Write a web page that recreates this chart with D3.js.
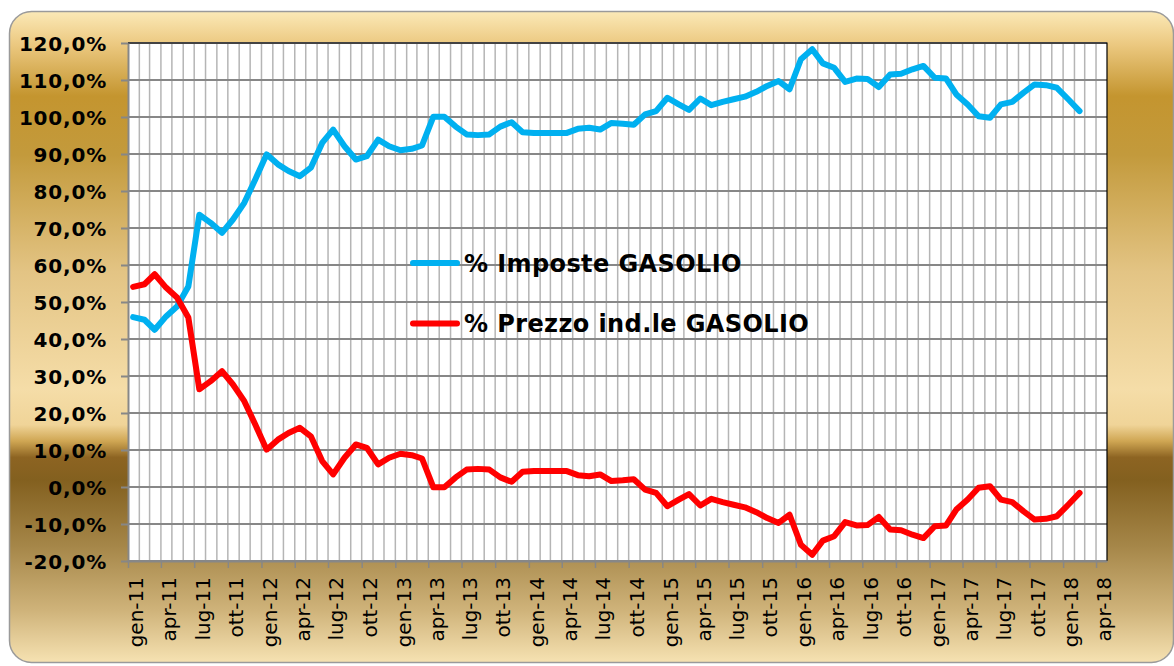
<!DOCTYPE html>
<html>
<head>
<meta charset="utf-8">
<script src="https://cdn.jsdelivr.net/npm/d3@7/dist/d3.min.js"></script>
<style>
  body { margin: 0; background: #ffffff; }
  svg { display: block; }
</style>
</head>
<body>
<div id="chart"></div>
<script>
// monthly shares, gen-11 .. feb-18
const firstMonth = [2011, 0];
const imposte = [
  45.9, 45.2, 42.5, 46.1, 48.8, 54.2, 73.6, 71.4, 68.7, 72.3, 76.8, 83.1,
  89.9, 87.2, 85.4, 84.0, 86.3, 93.0, 96.6, 92.1, 88.5, 89.4, 93.9, 92.1,
  91.0, 91.4, 92.3, 100.1, 100.1, 97.4, 95.3, 95.1, 95.3, 97.4, 98.6, 95.9,
  95.7, 95.7, 95.7, 95.7, 96.8, 97.1, 96.6, 98.4, 98.2, 97.9, 100.7, 101.6,
  105.2, 103.4, 101.9, 105.0, 103.2, 104.1, 104.8, 105.5, 106.8, 108.4, 109.7, 107.5,
  115.6, 118.3, 114.5, 113.3, 109.5, 110.4, 110.3, 108.1, 111.5, 111.7, 112.9, 113.8,
  110.6, 110.4, 106.1, 103.4, 100.2, 99.8, 103.4, 104.1, 106.6, 108.8, 108.6, 107.9,
  104.8, 101.6
];
const prezzo = [
  54.1, 54.8, 57.5, 53.9, 51.2, 45.8, 26.4, 28.6, 31.3, 27.7, 23.2, 16.9,
  10.1, 12.8, 14.6, 16.0, 13.7, 7.0, 3.4, 7.9, 11.5, 10.6, 6.1, 7.9,
  9.0, 8.6, 7.7, -0.1, -0.1, 2.6, 4.7, 4.9, 4.7, 2.6, 1.4, 4.1,
  4.3, 4.3, 4.3, 4.3, 3.2, 2.9, 3.4, 1.6, 1.8, 2.1, -0.7, -1.6,
  -5.2, -3.4, -1.9, -5.0, -3.2, -4.1, -4.8, -5.5, -6.8, -8.4, -9.7, -7.5,
  -15.6, -18.3, -14.5, -13.3, -9.5, -10.4, -10.3, -8.1, -11.5, -11.7, -12.9, -13.8,
  -10.6, -10.4, -6.1, -3.4, -0.2, 0.2, -3.4, -4.1, -6.6, -8.8, -8.6, -7.9,
  -4.8, -1.6
];
const seriesNames = ["% Imposte GASOLIO", "% Prezzo ind.le GASOLIO"];
const seriesColors = ["#00b0f0", "#ff0000"];
const yTicks = [-20, -10, 0, 10, 20, 30, 40, 50, 60, 70, 80, 90, 100, 110, 120];
const monthNames = ["gen", "feb", "mar", "apr", "mag", "giu", "lug", "ago", "set", "ott", "nov", "dic"];

const width = 1174, height = 666;
const plotLeft = 128, plotRight = 1107, plotTop = 43, plotBottom = 561;

const itLocale = d3.timeFormatLocale({
  dateTime: "%A %e %B %Y, %X", date: "%d/%m/%Y", time: "%H:%M:%S",
  periods: ["AM", "PM"],
  days: ["domenica", "lunedì", "martedì", "mercoledì", "giovedì", "venerdì", "sabato"],
  shortDays: ["dom", "lun", "mar", "mer", "gio", "ven", "sab"],
  months: ["gennaio", "febbraio", "marzo", "aprile", "maggio", "giugno", "luglio", "agosto", "settembre", "ottobre", "novembre", "dicembre"],
  shortMonths: monthNames
});

const dates = imposte.map((v, i) => new Date(firstMonth[0], firstMonth[1] + i, 15));

const x = d3.scaleTime()
  .domain([new Date(2011, 0, 1), new Date(2018, 4, 1)])
  .range([plotLeft, plotRight]);
const y = d3.scaleLinear()
  .domain([-20, 120])
  .range([plotBottom, plotTop]);

const svg = d3.select("#chart").append("svg")
  .attr("width", width)
  .attr("height", height);

// gold frame
const grad = svg.append("defs").append("linearGradient")
  .attr("id", "gold").attr("x1", 0).attr("y1", 0).attr("x2", 0).attr("y2", 1);
[
  [0, "#fbe9b7"], [0.05, "#ecc981"], [0.13, "#c4952f"], [0.22, "#c39a3c"],
  [0.40, "#e3c484"], [0.58, "#f5dda8"], [0.635, "#f0d498"], [0.66, "#cfa653"],
  [0.685, "#8d6422"], [0.72, "#83601f"], [0.82, "#a58648"], [0.92, "#cfb37a"],
  [1, "#f6e2b2"]
].forEach(s => grad.append("stop").attr("offset", s[0]).attr("stop-color", s[1]));

svg.append("rect")
  .attr("x", 9.5).attr("y", 11.5)
  .attr("width", 1164).attr("height", 651)
  .attr("rx", 22).attr("ry", 22)
  .attr("fill", "url(#gold)")
  .attr("stroke", "#9a9a9a")
  .attr("stroke-width", 1.5);

svg.append("rect")
  .attr("x", plotLeft).attr("y", plotTop)
  .attr("width", plotRight - plotLeft).attr("height", plotBottom - plotTop)
  .attr("fill", "#ffffff");

// monthly vertical gridlines
svg.append("g")
  .selectAll("line")
  .data(d3.timeMonth.range(new Date(2011, 1, 1), new Date(2018, 4, 1)))
  .enter()
  .append("line")
  .attr("x1", d => x(d)).attr("x2", d => x(d))
  .attr("y1", plotTop).attr("y2", plotBottom)
  .attr("stroke", "#b5b5b5")
  .attr("stroke-width", 1.5);

svg.append("g")
  .selectAll("line")
  .data(yTicks)
  .enter()
  .append("line")
  .attr("x1", plotLeft).attr("x2", plotRight)
  .attr("y1", d => y(d)).attr("y2", d => y(d))
  .attr("stroke", "#878787")
  .attr("stroke-width", 2);

// top / right border
svg.append("path")
  .attr("d", `M${plotLeft},${plotTop}H${plotRight}V${plotBottom}`)
  .attr("fill", "none")
  .attr("stroke", "#000000")
  .attr("stroke-width", 1.2);

const yAxis = svg.append("g")
  .attr("transform", `translate(${plotLeft},0)`)
  .call(d3.axisLeft(y)
    .tickValues(yTicks)
    .tickSize(7)
    .tickSizeOuter(0)
    .tickPadding(14)
    .tickFormat(d => d.toFixed(1).replace(".", ",") + "%"));
yAxis.select(".domain").attr("stroke", "#878787").attr("stroke-width", 2);
yAxis.selectAll(".tick line").attr("stroke", "#878787").attr("stroke-width", 2);
yAxis.selectAll("text")
  .attr("fill", "#000000")
  .attr("font-family", "Verdana, 'DejaVu Sans', sans-serif")
  .attr("font-weight", "bold")
  .attr("font-size", "20px")
  .attr("letter-spacing", "0.8px")
  .attr("dy", "0.36em");

const xAxis = svg.append("g")
  .attr("transform", `translate(0,${plotBottom})`)
  .call(d3.axisBottom(x)
    .ticks(d3.timeMonth.every(3))
    .tickSize(7)
    .tickSizeOuter(0)
    .tickFormat(itLocale.format("%b-%y")));
xAxis.select(".domain").attr("stroke", "#878787").attr("stroke-width", 2);
xAxis.selectAll(".tick line").attr("stroke", "#878787").attr("stroke-width", 1.5);
xAxis.selectAll("text")
  .attr("transform", "rotate(-90)")
  .attr("text-anchor", "end")
  .attr("x", -16)
  .attr("y", 0)
  .attr("dy", "0.74em")
  .attr("fill", "#000000")
  .attr("font-family", "Verdana, 'DejaVu Sans', sans-serif")
  .attr("font-size", "20px");

const line = d3.line()
  .x((d, i) => x(dates[i]))
  .y(d => y(d));

[imposte, prezzo].forEach((values, k) => {
  svg.append("path")
    .datum(values)
    .attr("d", line)
    .attr("fill", "none")
    .attr("stroke", seriesColors[k])
    .attr("stroke-width", 6)
    .attr("stroke-linejoin", "round")
    .attr("stroke-linecap", "round");
});

// legend
const legend = svg.append("g").attr("transform", "translate(413,263)");
seriesNames.forEach((name, k) => {
  const row = legend.append("g").attr("transform", `translate(0,${k * 60.5})`);
  row.append("line")
    .attr("x1", 0).attr("x2", 44)
    .attr("stroke", seriesColors[k])
    .attr("stroke-width", 6)
    .attr("stroke-linecap", "round");
  row.append("text")
    .attr("x", 51)
    .attr("dy", "0.36em")
    .attr("font-family", "Verdana, 'DejaVu Sans', sans-serif")
    .attr("font-weight", "bold")
    .attr("font-size", "24px")
    .attr("letter-spacing", "0.4px")
    .attr("fill", "#000000")
    .text(name);
});
</script>
</body>
</html>
